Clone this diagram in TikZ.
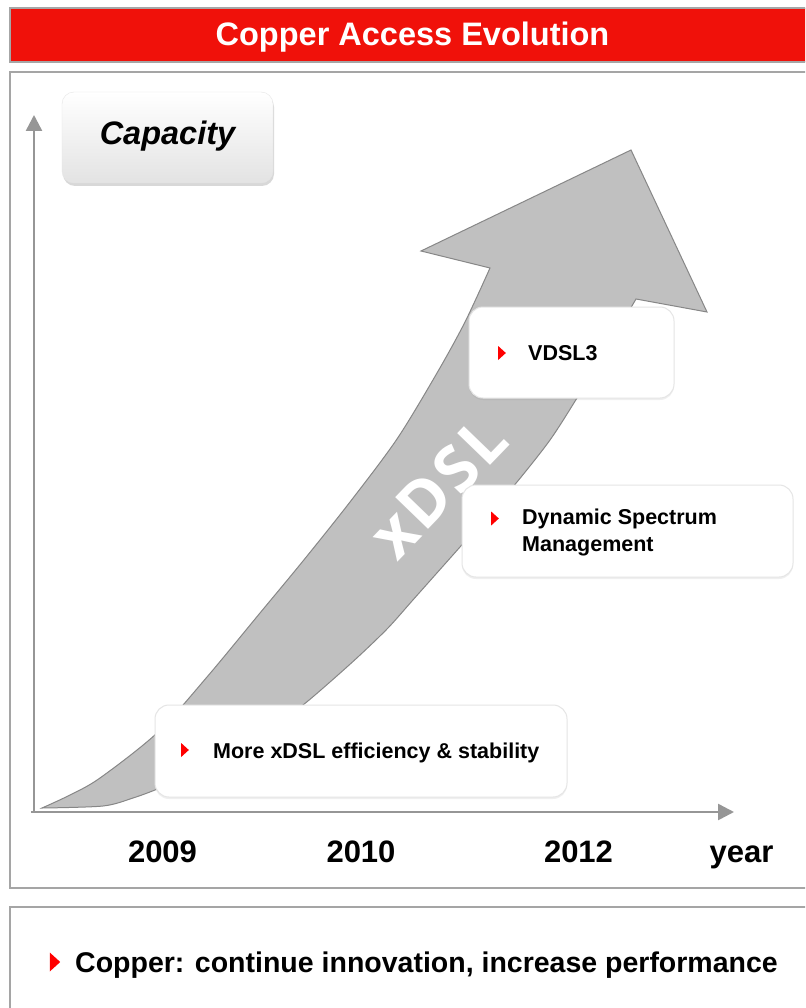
\documentclass[tikz,border=0pt]{standalone}
\usepackage{fontspec}
\setmainfont{Liberation Sans}
\newfontfamily\fuentexdsl[LetterSpace=5]{Open Sans}
\usepackage{xcolor}
\usepackage{tikz}
\usetikzlibrary{
  arrows.meta,
  positioning,
  shadows
}
\definecolor{rojotitulo}{RGB}{240, 17, 10}
\definecolor{grismarco}{RGB}{165, 165, 165}
\definecolor{grisbanda}{RGB}{192, 192, 192}
\definecolor{grisborde}{RGB}{135, 135, 135}
\definecolor{griseje}{RGB}{150, 150, 150}

% vineta roja: centro y semialtura
\newcommand{\vineta}[2][7]{\fill[red] (#2) ++(-0.55*#1,-#1) -- ++(1.1*#1,#1) -- ++(-1.1*#1,#1) -- cycle;}

\begin{document}
\begin{tikzpicture}[
  x=1pt, y=-1pt,
  marco/.style = {draw=grismarco, line width=2pt},
  barra/.style = {
    rectangle, draw=gray!70, fill=rojotitulo, line width=1.5pt,
    text=white, font=\fontsize{32.5}{36}\selectfont\bfseries
  },
  capa/.style  = {
    rectangle, rounded corners=12pt, draw=gray!20,
    top color=white, bottom color=gray!22,
    font=\fontsize{32.5}{36}\selectfont\bfseries\itshape,
    drop shadow={opacity=0.3, shadow xshift=1pt, shadow yshift=-3pt}
  },
  caja/.style  = {
    rectangle, rounded corners=14pt, draw=gray!20, fill=white, line width=1pt,
    drop shadow={opacity=0.12, shadow xshift=0pt, shadow yshift=-2pt}
  },
  texto/.style = {font=\fontsize{21.5}{27}\selectfont\bfseries, inner sep=0pt, align=left},
  anio/.style  = {font=\fontsize{31}{36}\selectfont\bfseries, inner sep=0pt, anchor=base},
  eje/.style   = {draw=griseje, line width=2.5pt, -{Triangle[length=16pt, width=16pt]}},
  banda/.style = {fill=grisbanda, draw=grisborde, line width=1pt, line join=miter}
]
\useasboundingbox (0,0) rectangle (805,1008);
\clip (0,0) rectangle (805,1008);
\fill[white] (0,0) rectangle (805,1008);

% Titulo y paneles
\node[barra, minimum width=805pt, minimum height=54pt, text height=24pt, text depth=2pt]
  (titulo) at (412.5,35) {Copper Access Evolution};
\draw[marco] (10,72) rectangle (815,888);
\draw[marco] (10,907) rectangle (815,1030);

% Ejes
\coordinate (origen) at (34,812);
\coordinate (ytope)  at (34,115);
\coordinate (xfin)   at (734,812);
\draw[eje] (origen) -- (ytope);
\draw[eje] ([xshift=-3pt]origen) -- (xfin);

\node[capa, minimum width=211pt, minimum height=91pt, text height=22pt, text depth=7pt]
  (capacidad) at (167.5,137.5) {Capacity};

% Flecha xDSL
\draw[banda] plot[smooth, tension=0.5] coordinates {(42,808) (70,795) (100,778) (157,733)
    (207,677) (260,613) (303,561) (350,502) (397,439) (437,373) (465,322) (490,268)}
  -- (421,251) -- (631,150) -- (707,312) -- (636,299)
  -- plot[smooth, tension=0.5] coordinates {(636,299) (606,350) (577,398) (550,440)
    (517,482) (485,519) (460,547) (436,574) (412,601) (388,628) (359,656) (330,682)
    (303,705) (260,738) (210,767) (160,788) (133,798) (103,806) (42,808)} -- cycle;
\node[rotate=46, text=white, font=\fuentexdsl\fontsize{64}{70}\selectfont\bfseries]
  (xdsl) at (438,487) {xDSL};

% Cajas de hitos
\node[caja, minimum width=205pt, minimum height=91pt] (cvdsl) at (571.5,352.5) {};
\node[texto, anchor=base west] (vdsl) at (528,360) {VDSL3};
\vineta{502,353}

\node[caja, minimum width=331pt, minimum height=92pt] (cdsm) at (627.5,531) {};
\node[texto, anchor=north west] (dsm) at (522,509) {Dynamic Spectrum\\Management};
\vineta{495,518.5}

\node[caja, minimum width=412pt, minimum height=92pt] (cmas) at (361,751) {};
\node[texto, anchor=base west] (mas) at (213,758) {More xDSL efficiency \& stability};
\vineta{185,750}

% Anios
\node[anio] (a2009) at (162.5,862) {2009};
\node[anio] (a2010) at (361,862)   {2010};
\node[anio] (a2012) at (578.5,862) {2012};
\node[anio] (year)  at (741.5,862) {year};

% Conclusion
\node[font=\fontsize{28.5}{32}\selectfont\bfseries, inner sep=0pt, anchor=base west]
  (lema) at (75,972) {Copper: continue innovation, increase performance};
\vineta[9.5]{55,962}

\end{tikzpicture}
\end{document}
